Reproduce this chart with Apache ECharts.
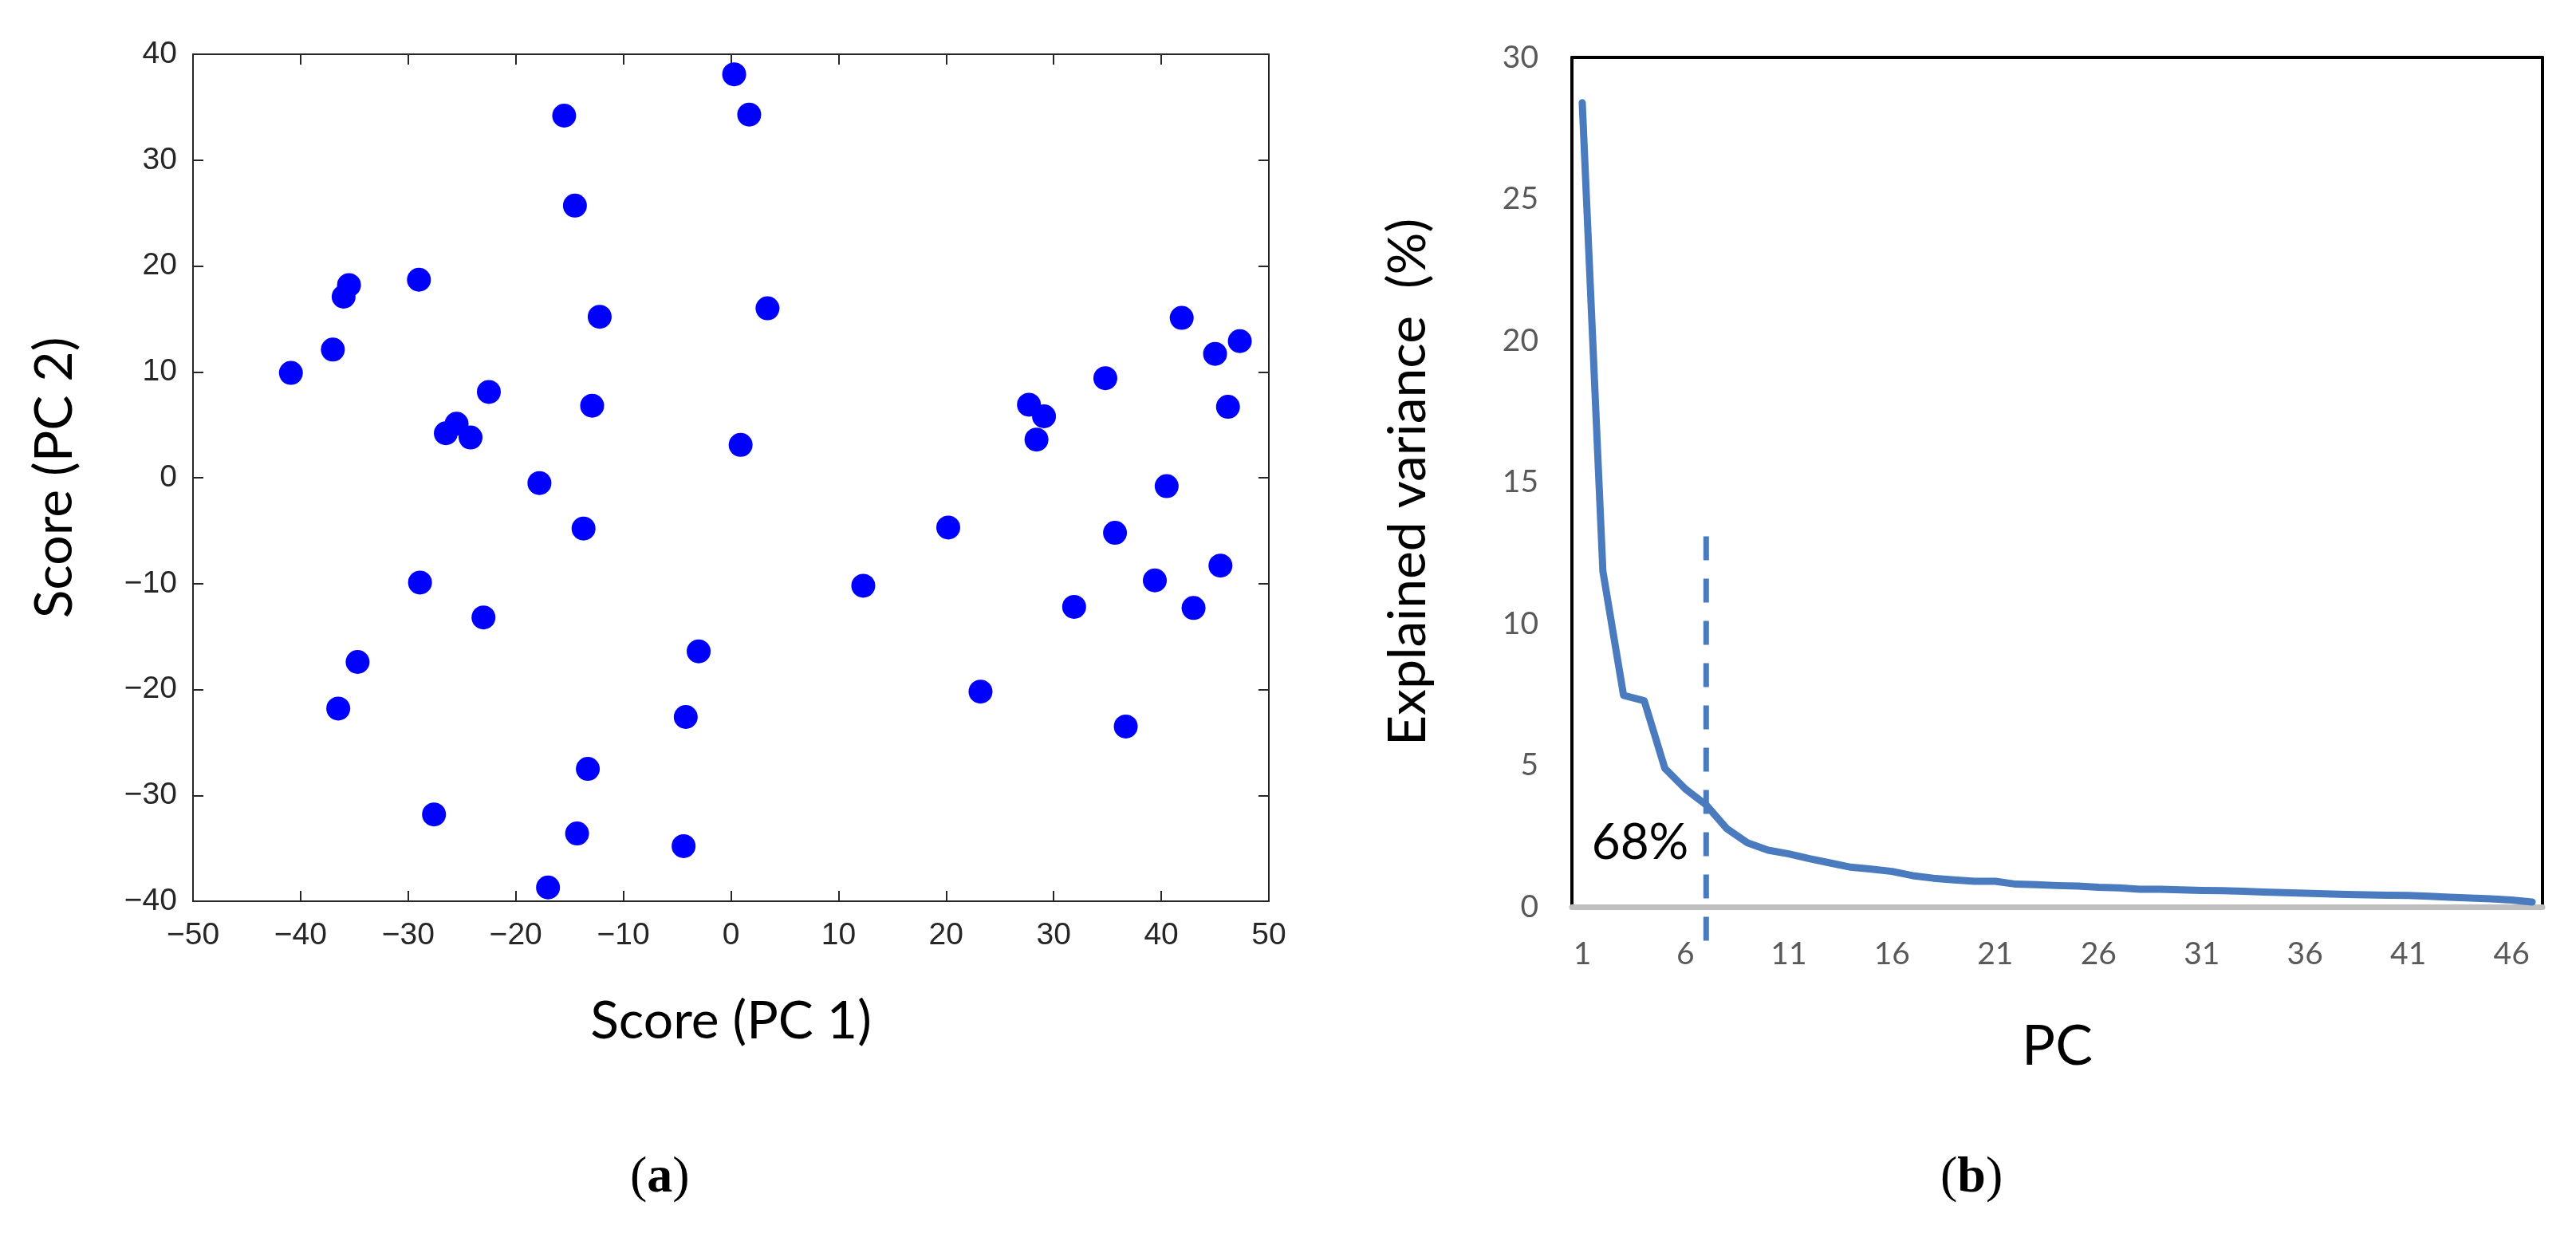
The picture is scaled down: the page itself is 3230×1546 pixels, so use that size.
<!DOCTYPE html>
<html>
<head>
<meta charset="utf-8">
<script src="https://cdn.jsdelivr.net/npm/echarts@6/dist/echarts.min.js"></script>
<style>
	html, body { margin: 0; padding: 0; background: #fff; }
	#main { width: 3230px; height: 1546px; }
</style>
</head>
<body>
<div id="main"></div>
<script>
	// (a) 样本得分 PC1 / PC2
	var scorePC1 = [0.3, 1.7, -15.5, -14.5, -29.0, -35.5, -36.0, 3.4, -12.2, -37.0, -40.9, -22.5, -12.9, -25.5, -26.5, -24.2,
		0.9, -17.8, -13.7, -28.9, -23.0, -34.7, -36.5, -3.0, -4.2, -13.3, -27.6, -14.3, -4.4, -17.0,
		12.3, 20.2, 23.2, 27.7, 29.1, 28.4, 34.8, 31.9, 35.7, 36.7, 39.4, 40.5, 41.9, 43.0, 45.0, 45.5, 46.2, 47.3];
	var scorePC2 = [38.1, 34.3, 34.2, 25.7, 18.7, 18.2, 17.1, 16.0, 15.2, 12.1, 9.9, 8.1, 6.8, 5.1, 4.2, 3.8,
		3.1, -0.5, -4.8, -9.9, -13.2, -17.4, -21.8, -16.4, -22.6, -27.5, -31.8, -33.6, -34.8, -38.7,
		-10.2, -4.7, -20.2, 6.9, 5.8, 3.6, 9.4, -12.2, -5.2, -23.5, -9.7, -0.8, 15.1, -12.3, 11.7, -8.3, 6.7, 12.9];

	// (b) 各主成分解释方差 (%)
	var pcLabels = ['1', '2', '3', '4', '5', '6', '7', '8', '9', '10', '11', '12', '13', '14', '15', '16',
		'17', '18', '19', '20', '21', '22', '23', '24', '25', '26', '27', '28', '29', '30', '31', '32',
		'33', '34', '35', '36', '37', '38', '39', '40', '41', '42', '43', '44', '45', '46', '47'];
	var explainedVar = [28.4, 11.85, 7.47, 7.28, 4.89, 4.16, 3.6, 2.76, 2.26, 2.0, 1.87, 1.7, 1.55, 1.4, 1.33, 1.25,
		1.1, 1.01, 0.95, 0.9, 0.9, 0.8, 0.78, 0.75, 0.73, 0.69, 0.67, 0.62, 0.62, 0.6, 0.58, 0.57,
		0.55, 0.52, 0.5, 0.48, 0.46, 0.44, 0.42, 0.41, 0.4, 0.37, 0.34, 0.31, 0.28, 0.24, 0.17];
	var cutoffPC = '7';
	// 虚线从下往上画，让虚线段落在轴下方的位置和原图一致
	var cutoffLine = [-1.2, 13.3];
	var cutoffText = '68%';
	var cutoffTextY = 2.25;

	var scoreData = [];
	for (var i = 0; i < scorePC1.length; i++) {
		scoreData.push([scorePC1[i], scorePC2[i]]);
	}

	// MATLAB 风格的负号
	function minusFmt(v) {
		return String(v).replace('-', '\u2212');
	}

	var matlabLine = { show: true, onZero: false, lineStyle: { color: '#262626', width: 2 } };
	var matlabTick = { show: true, inside: true, length: 13, lineStyle: { color: '#262626', width: 2 } };
	var matlabLabel = { fontFamily: 'Liberation Sans', fontSize: 39, color: '#262626', formatter: minusFmt };
	var titleFont = { fontFamily: 'Lato', fontSize: 66, color: '#000' };
	var blackLine = { show: true, onZero: false, lineStyle: { color: '#000', width: 4 } };
	var blue = '#4a7bbf';
	var captionStyle = {
		fontFamily: 'Liberation Serif', fontSize: 64, color: '#000', fontWeight: 'normal',
		rich: { b: { fontFamily: 'Liberation Serif', fontSize: 64, fontWeight: 'bold', color: '#000' } }
	};

	var chart = echarts.init(document.getElementById('main'), null, { renderer: 'canvas' });

	var option = {
		backgroundColor: '#fff',
		animation: false,
		title: [
			{ text: '({b|a})', left: 785, top: 1440, textStyle: captionStyle },
			{ text: '({b|b})', left: 2428, top: 1440, textStyle: captionStyle }
		],
		grid: [
			{ left: 242, top: 68, width: 1349, height: 1062 },
			{ left: 1971, top: 72, width: 1217, height: 1065 }
		],
		xAxis: [
			{
				gridIndex: 0, type: 'value', min: -50, max: 50, interval: 10, position: 'bottom',
				name: 'Score (PC 1)', nameLocation: 'middle', nameGap: 118, nameTextStyle: titleFont,
				axisLine: matlabLine, axisTick: matlabTick,
				axisLabel: Object.assign({ margin: 24 }, matlabLabel),
				splitLine: { show: false }
			}, {
				gridIndex: 0, type: 'value', min: -50, max: 50, interval: 10, position: 'top',
				axisLine: matlabLine, axisTick: matlabTick, axisLabel: { show: false }, splitLine: { show: false }
			}, {
				gridIndex: 1, type: 'category', data: pcLabels, boundaryGap: true, position: 'bottom',
				name: 'PC', nameLocation: 'middle', nameGap: 140, nameTextStyle: { fontFamily: 'Lato', fontSize: 70, color: '#000' },
				axisLine: { show: true, lineStyle: { color: '#bfbfbf', width: 7 } },
				axisTick: { show: false },
				axisLabel: { interval: 4, margin: 40, fontFamily: 'Lato', fontSize: 39, color: '#595959' }
			}, {
				gridIndex: 1, type: 'category', data: pcLabels, boundaryGap: true, position: 'top',
				axisLine: blackLine, axisTick: { show: false }, axisLabel: { show: false }
			}
		],
		yAxis: [
			{
				gridIndex: 0, type: 'value', min: -40, max: 40, interval: 10, position: 'left',
				name: 'Score (PC 2)', nameLocation: 'middle', nameGap: 140, nameTextStyle: titleFont,
				axisLine: matlabLine, axisTick: matlabTick,
				axisLabel: Object.assign({ margin: 20 }, matlabLabel),
				splitLine: { show: false }
			}, {
				gridIndex: 0, type: 'value', min: -40, max: 40, interval: 10, position: 'right',
				axisLine: matlabLine, axisTick: matlabTick, axisLabel: { show: false }, splitLine: { show: false }
			}, {
				gridIndex: 1, type: 'value', min: 0, max: 30, interval: 5, position: 'left',
				name: 'Explained variance  (%)', nameLocation: 'middle', nameGap: 172, nameTextStyle: titleFont,
				axisLine: blackLine, axisTick: { show: false },
				axisLabel: { margin: 42, fontFamily: 'Lato', fontSize: 39, color: '#595959' },
				splitLine: { show: false }
			}, {
				gridIndex: 1, type: 'value', min: 0, max: 30, interval: 5, position: 'right',
				axisLine: blackLine, axisTick: { show: false }, axisLabel: { show: false }, splitLine: { show: false }
			}
		],
		series: [
			{
				name: 'scores',
				type: 'scatter',
				xAxisIndex: 0, yAxisIndex: 0,
				symbolSize: 30,
				itemStyle: { color: '#0000ff', opacity: 1 },
				data: scoreData
			}, {
				name: 'explained',
				type: 'line',
				xAxisIndex: 2, yAxisIndex: 2,
				symbol: 'none',
				lineStyle: { color: blue, width: 9, cap: 'round', join: 'round' },
				data: explainedVar,
				z: 3
			}, {
				name: 'cutoff',
				type: 'line',
				xAxisIndex: 2, yAxisIndex: 2,
				clip: false,
				symbol: 'none',
				lineStyle: { color: blue, width: 7, type: [30, 23] },
				data: [[cutoffPC, cutoffLine[0]], [cutoffPC, cutoffLine[1]]],
				markPoint: {
					symbol: 'circle',
					symbolSize: 0,
					label: {
						show: true, position: 'left', distance: 22,
						formatter: cutoffText,
						fontFamily: 'Lato', fontSize: 62, color: '#000'
					},
					data: [{ coord: [cutoffPC, cutoffTextY] }]
				},
				z: 4
			}
		]
	};
	chart.setOption(option);
</script>
</body>
</html>
